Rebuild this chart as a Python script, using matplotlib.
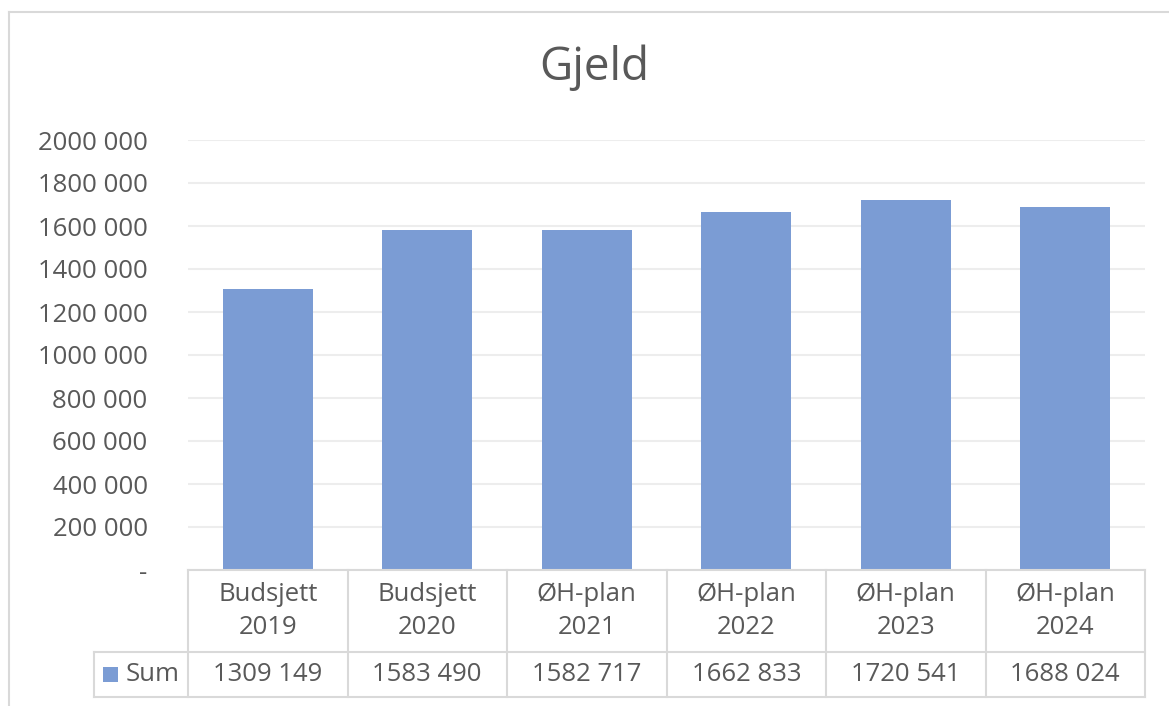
import matplotlib.pyplot as plt
import matplotlib.transforms as mtransforms
from matplotlib.patches import Rectangle

categories = ["Budsjett\n2019", "Budsjett\n2020", "ØH-plan\n2021",
              "ØH-plan\n2022", "ØH-plan\n2023", "ØH-plan\n2024"]
values = [1309149, 1583490, 1582717, 1662833, 1720541, 1688024]
yticks = [0, 200000, 400000, 600000, 800000, 1000000,
          1200000, 1400000, 1600000, 1800000, 2000000]
series_name = "Sum"
title = "Gjeld"

bar_color = "#7B9CD4"
text_color = "#595959"
line_color = "#D9D9D9"
grid_color = "#EDEDED"
fs = 18.5

plt.rcParams['font.family'] = ['Open Sans', 'DejaVu Sans']


def fmt(v):
    # Excel style: "1309 149", zero shown as "-"
    v = int(round(v))
    if v == 0:
        return "-"
    if v < 1000:
        return str(v)
    return f"{v // 1000} {v % 1000:03d}"


W, H = 1169, 706
fig = plt.figure(figsize=(W / 100, H / 100), dpi=100)
ax = fig.add_axes([188 / W, 1 - 570 / H, (1145 - 188) / W, (570 - 140) / H])

x = list(range(len(categories)))
ax.bar(x, values, width=0.565, color=bar_color, zorder=2)
ax.set_xlim(-0.5, len(categories) - 0.5)
ax.set_ylim(0, 2000000)
ax.set_yticks(yticks)
ax.set_yticklabels([fmt(v) for v in yticks])
ax.set_xticks([])
ax.tick_params(axis='y', length=0, pad=29, labelsize=fs, labelcolor=text_color)
ax.grid(axis='y', color=grid_color, linewidth=1.5, zorder=0)
for s in ['top', 'right', 'left']:
    ax.spines[s].set_visible(False)
ax.spines['bottom'].set_color(line_color)
ax.spines['bottom'].set_linewidth(1.5)

# data table under the axis: x in data units, y in axes fraction
trans = mtransforms.blended_transform_factory(ax.transData, ax.transAxes)
y_top = 0.0
y_mid = (570 - 652) / 430
y_bot = (570 - 697) / 430
legend_left = -0.5 - (188 - 94) / ((1145 - 188) / len(categories))

lkw = dict(color=line_color, linewidth=1.5, transform=trans, clip_on=False)
for b in [i - 0.5 for i in range(len(categories) + 1)]:
    ax.plot([b, b], [y_top, y_bot], **lkw)
ax.plot([legend_left, len(categories) - 0.5], [y_mid, y_mid], **lkw)
ax.plot([legend_left, len(categories) - 0.5], [y_bot, y_bot], **lkw)
ax.plot([legend_left, legend_left], [y_mid, y_bot], **lkw)

for i, (cat, v) in enumerate(zip(categories, values)):
    ax.text(i, (y_top + y_mid) / 2, cat, transform=trans, ha='center', va='center',
            fontsize=fs, color=text_color, linespacing=1.45)
    ax.text(i, (y_mid + y_bot) / 2, fmt(v), transform=trans, ha='center', va='center',
            fontsize=fs, color=text_color)

# legend key inside the first table cell
cw = (1145 - 188) / len(categories)
ax.add_patch(Rectangle((legend_left + 9 / cw, (y_mid + y_bot) / 2 - 7.5 / 430),
                       15 / cw, 15 / 430, transform=trans, clip_on=False,
                       facecolor=bar_color, edgecolor='none'))
ax.text(legend_left + 32 / cw, (y_mid + y_bot) / 2, series_name, transform=trans,
        ha='left', va='center', fontsize=fs, color=text_color)

fig.text(594 / W, 1 - 68 / H, title, ha='center', va='center',
         fontsize=33, color=text_color)

# chart area border (top and left visible in the crop)
fig.add_artist(plt.Line2D([9 / W, 1], [1 - 12 / H, 1 - 12 / H],
                          transform=fig.transFigure, color=line_color, linewidth=1.5))
fig.add_artist(plt.Line2D([9 / W, 9 / W], [0, 1 - 12 / H],
                          transform=fig.transFigure, color=line_color, linewidth=1.5))

fig.savefig("out.png", dpi=100)
